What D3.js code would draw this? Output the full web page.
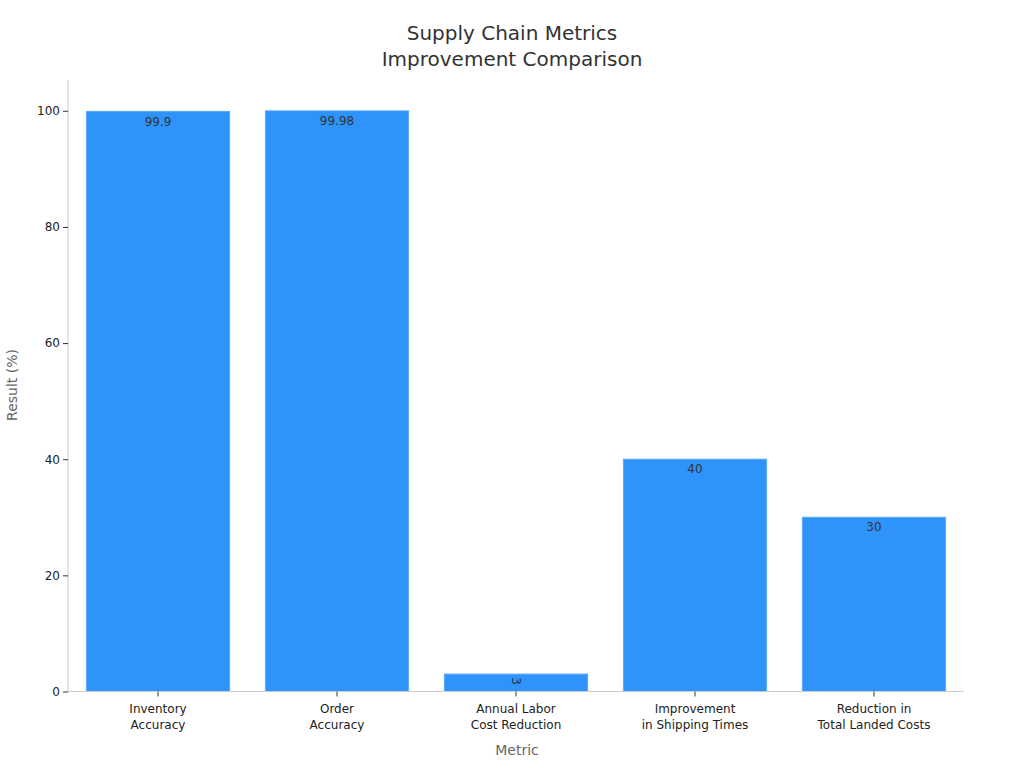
<!DOCTYPE html>
<html>
<head>
<meta charset="utf-8">
<script src="https://cdn.jsdelivr.net/npm/d3@7"></script>
<style>
  body { margin: 0; background: #fff; }
  svg { font-family: "DejaVu Sans", sans-serif; }
</style>
</head>
<body>
<svg id="chart" width="1024" height="768"></svg>
<script>
const categories = [
  ["Inventory", "Accuracy"],
  ["Order", "Accuracy"],
  ["Annual Labor", "Cost Reduction"],
  ["Improvement", "in Shipping Times"],
  ["Reduction in", "Total Landed Costs"]
];
const values = [99.9, 99.98, 3, 40, 30];
const valueLabels = ["99.9", "99.98", "3", "40", "30"];
const yTicks = [0, 20, 40, 60, 80, 100];
const titleLines = ["Supply Chain Metrics", "Improvement Comparison"];

const svg = d3.select("#chart");
const margin = { left: 68, right: 61, top: 80, bottom: 76.5 };
const W = 1024, H = 768;

const keys = categories.map(c => c.join(" "));
const x = d3.scaleBand().domain(keys).range([margin.left + 0.5, W - margin.right + 0.5]).paddingInner(0.2).paddingOuter(0.1);
const y = d3.scaleLinear().domain([0, 105.3]).range([H - margin.bottom, margin.top]);

// title
svg.append("g").selectAll("text").data(titleLines).join("text")
  .attr("x", 512).attr("y", (d, i) => 40 + i * 26)
  .attr("text-anchor", "middle").attr("font-size", 20).attr("fill", "#333")
  .text(d => d);

// bars
svg.append("g").selectAll("rect").data(values).join("rect")
  .attr("x", (d, i) => x(keys[i]))
  .attr("width", x.bandwidth())
  .attr("y", d => y(d))
  .attr("height", d => y(0) - y(d))
  .attr("fill", "#2E93FA")
  .attr("stroke", "#5aa9f7").attr("stroke-width", 1);

// value labels
svg.append("g").selectAll("text").data(values).join("text")
  .attr("font-size", 12).attr("fill", "#333").attr("text-anchor", "middle")
  .attr("transform", (d, i) => {
    const cx = x(keys[i]) + x.bandwidth() / 2;
    const cy = y(d) + 10;
    return d < 8 ? `translate(${cx},${cy - 3}) rotate(90)` : `translate(${cx},${cy})`;
  })
  .attr("dy", "0.35em")
  .text((d, i) => valueLabels[i]);

// y axis
const yAxis = svg.append("g").attr("transform", `translate(${margin.left},0)`)
  .call(d3.axisLeft(y).tickValues(yTicks).tickSize(5).tickPadding(3));
yAxis.select(".domain").attr("stroke", "#ccc").attr("d", `M0,${margin.top}V${y(0)}`);
yAxis.selectAll(".tick line").attr("stroke", "#333");
yAxis.selectAll(".tick text").attr("font-size", 12).attr("fill", "#222").attr("font-family", "DejaVu Sans, sans-serif");

// x axis
const xAxis = svg.append("g").attr("transform", `translate(0,${y(0)})`)
  .call(d3.axisBottom(x).tickSize(5).tickFormat(""));
xAxis.select(".domain").attr("stroke", "#ccc").attr("d", `M${margin.left},0H${W - margin.right + 1}`);
xAxis.selectAll(".tick line").attr("stroke", "#333");
xAxis.selectAll(".tick").each(function(d, i) {
  const t = d3.select(this).append("text").attr("fill", "#222").attr("font-size", 12)
    .attr("text-anchor", "middle").attr("font-family", "DejaVu Sans, sans-serif");
  categories[i].forEach((line, j) => {
    t.append("tspan").attr("x", 0).attr("y", 21 + j * 16).text(line);
  });
});

// axis titles
svg.append("text").attr("x", 517).attr("y", 755).attr("text-anchor", "middle")
  .attr("font-size", 14).attr("fill", "#666").text("Metric");
svg.append("text").attr("transform", `translate(17,${385}) rotate(-90)`).attr("text-anchor", "middle")
  .attr("font-size", 14).attr("fill", "#666").text("Result (%)");
</script>
</body>
</html>
